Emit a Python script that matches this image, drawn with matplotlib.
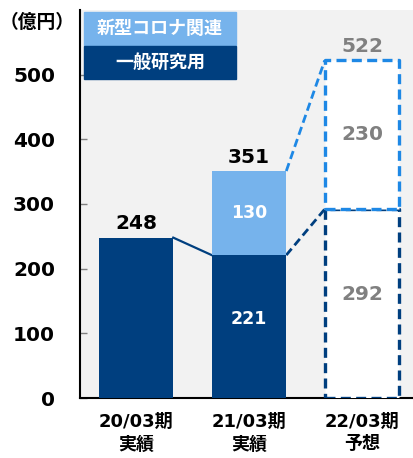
import numpy as np
import matplotlib.pyplot as plt
from matplotlib.patches import Rectangle

plt.rcParams['font.family'] = ['DejaVu Sans', 'Noto Sans CJK JP']

# Data (億円)
categories = ['20/03期\n実績', '21/03期\n実績', '22/03期\n予想']
general = [248, 221, 292]      # 一般研究用
corona = [0, 130, 230]         # 新型コロナ関連
totals = [248, 351, 522]
forecast = [False, False, True]

NAVY = '#003F7F'
LIGHT = '#76B3EC'
DASH_BLUE = '#1E88E5'
GREY = '#808080'
BG = '#F2F2F2'

W = 0.66
x = np.arange(len(categories))

fig = plt.figure(figsize=(4.14, 4.58), dpi=100)
ax = fig.add_axes([80 / 414, 60 / 458, 334 / 414, 388 / 458])
ax.set_facecolor(BG)

for i in range(len(categories)):
    if forecast[i]:
        ax.bar(x[i], general[i], W, color='white', edgecolor=NAVY, linewidth=2.4,
               linestyle=(0, (3, 1.6)), joinstyle='round', zorder=3)
        ax.bar(x[i], corona[i], W, bottom=general[i], color='white', edgecolor=DASH_BLUE,
               linewidth=2.4, linestyle=(0, (3, 1.6)), joinstyle='round', zorder=3)
        tcol = GREY
    else:
        ax.bar(x[i], general[i], W, color=NAVY, zorder=3)
        if corona[i] > 0:
            ax.bar(x[i], corona[i], W, bottom=general[i], color=LIGHT, zorder=3)
        tcol = 'white'

    # labels inside the segments
    if corona[i] > 0:
        size = 14.5 if forecast[i] else 12.5
        ax.text(x[i], general[i] * 0.55, str(general[i]), ha='center', va='center',
                color=tcol, fontsize=size, fontweight='bold', zorder=4)
        ax.text(x[i], general[i] + corona[i] / 2, str(corona[i]), ha='center', va='center',
                color=tcol, fontsize=size, fontweight='bold', zorder=4)
    # total on top
    ax.annotate(str(totals[i]), (x[i], totals[i]), xytext=(0, 3), textcoords='offset points',
                ha='center', va='bottom', fontsize=14.5, fontweight='bold',
                color=GREY if forecast[i] else 'black')

# connecting lines
ax.plot([x[0] + W / 2, x[1] - W / 2], [general[0], general[1]], color=NAVY, lw=1.6, zorder=2)
ax.plot([x[1] + W / 2, x[2] - W / 2], [general[1], general[2]], color=NAVY, lw=2,
        linestyle=(0, (3, 1.6)), zorder=2)
ax.plot([x[1] + W / 2, x[2] - W / 2], [totals[1], totals[2]], color=DASH_BLUE, lw=2,
        linestyle=(0, (3, 1.6)), zorder=2)

ax.set_xlim(-0.495, 2.46)
ax.set_ylim(0, 600)
ax.set_yticks([0, 100, 200, 300, 400, 500])
ax.set_yticklabels(['0', '100', '200', '300', '400', '500'], fontsize=14.5, fontweight='bold')
ax.tick_params(axis='y', direction='in', length=5, color='#808080', pad=18, width=1)
ax.set_xticks(x)
ax.set_xticklabels(categories, fontsize=13, fontweight='bold', linespacing=1.3)
ax.tick_params(axis='x', length=0, pad=11)

for s in ['top', 'right']:
    ax.spines[s].set_visible(False)
ax.spines['left'].set_linewidth(1.5)
ax.spines['bottom'].set_linewidth(1.5)

# legend boxes
def axfrac(px, py):
    return ((px - 80) / 334, (398 - py) / 388)

lx, ly = axfrac(84, 45)
lw_, lh = 152 / 334, 33 / 388
ax.add_patch(Rectangle((lx, ly), lw_, lh, transform=ax.transAxes, color=LIGHT, zorder=5))
ax.text(lx + lw_ / 2, ly + lh / 2, '新型コロナ関連', transform=ax.transAxes, ha='center',
        va='center', color='white', fontsize=13, fontweight='bold', zorder=6)
dx, dy = axfrac(84, 79)
ax.add_patch(Rectangle((dx, dy), lw_, lh, transform=ax.transAxes, color=NAVY, zorder=5))
ax.text(dx + lw_ / 2, dy + lh / 2, '一般研究用', transform=ax.transAxes, ha='center',
        va='center', color='white', fontsize=13, fontweight='bold', zorder=6)

fig.text(37 / 414, 1 - 22 / 458, '（億円）', ha='center', va='center', fontsize=13.5,
         fontweight='bold')

fig.savefig('out.png', dpi=100)
